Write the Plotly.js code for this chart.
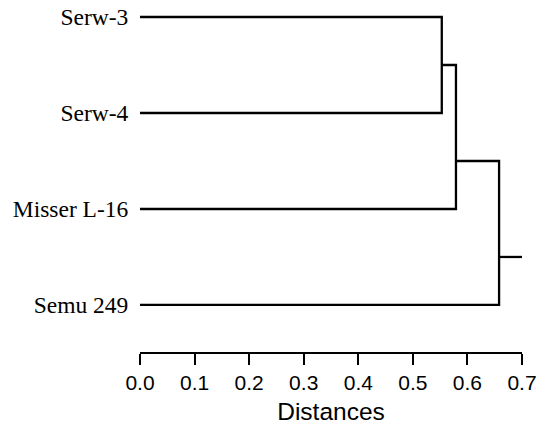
<!DOCTYPE html>
<html>
<head>
<meta charset="utf-8">
<script src="https://cdn.plot.ly/plotly-3.0.1.min.js"></script>
<style>html,body{margin:0;padding:0;background:#fff;}#chart{width:538px;height:429px;}</style>
</head>
<body>
<div id="chart"></div>
<script>
// Leaves, top to bottom
const leafNames = ['Serw-3', 'Serw-4', 'Misser L-16', 'Semu 249'];
// Merges: children ids ('L#' leaf, 'N#' earlier merge), distance, drawn row of the node
const mergeLeft = ['L0', 'N0', 'N1'];
const mergeRight = ['L1', 'L2', 'L3'];
const mergeHeight = [0.553, 0.579, 0.658];
const mergeRow = [0.5, 1.5, 2.5];
const rootEnd = 0.7;
const tickValues = [0, 0.1, 0.2, 0.3, 0.4, 0.5, 0.6, 0.7];
const tickLabels = ['0.0', '0.1', '0.2', '0.3', '0.4', '0.5', '0.6', '0.7'];

function nodeInfo(id) {
  const k = parseInt(id.slice(1), 10);
  if (id[0] === 'L') return {x: 0, y: k};
  return {x: mergeHeight[k], y: mergeRow[k]};
}

const xs = [], ys = [];
for (let i = 0; i < mergeHeight.length; i++) {
  const a = nodeInfo(mergeLeft[i]);
  const b = nodeInfo(mergeRight[i]);
  const h = mergeHeight[i];
  xs.push(a.x, h, h, b.x, null);
  ys.push(a.y, a.y, b.y, b.y, null);
}
const last = mergeHeight.length - 1;
xs.push(mergeHeight[last], rootEnd, null);
ys.push(mergeRow[last], mergeRow[last], null);

const trace = {
  type: 'scatter', mode: 'lines', x: xs, y: ys,
  line: {color: '#000', width: 2.3, shape: 'linear'},
  hoverinfo: 'skip', showlegend: false
};

const layout = {
  width: 538, height: 429,
  margin: {l: 140, r: 16, t: 5, b: 77},
  paper_bgcolor: '#fff', plot_bgcolor: '#fff',
  xaxis: {
    range: [0, 0.7], autorange: false,
    showgrid: false, zeroline: false,
    showline: true, linecolor: '#000', linewidth: 2,
    ticks: 'outside', ticklen: 11, tickwidth: 2, tickcolor: '#000',
    tickvals: tickValues, ticktext: tickLabels,
    tickfont: {family: 'Liberation Sans, Arial, sans-serif', size: 21, color: '#000'},
    title: {text: 'Distances', font: {family: 'Liberation Sans, Arial, sans-serif', size: 24.5, color: '#000'}, standoff: 10}
  },
  yaxis: {
    range: [3.49, -0.125], autorange: false,
    showgrid: false, zeroline: false, showline: false,
    ticks: 'outside', ticklen: 6, tickcolor: 'rgba(0,0,0,0)',
    tickvals: leafNames.map((_, i) => i), ticktext: leafNames,
    tickfont: {family: 'Liberation Serif, Times New Roman, serif', size: 23.5, color: '#000'}
  }
};

Plotly.newPlot('chart', [trace], layout, {staticPlot: true, displayModeBar: false});
</script>
</body>
</html>
